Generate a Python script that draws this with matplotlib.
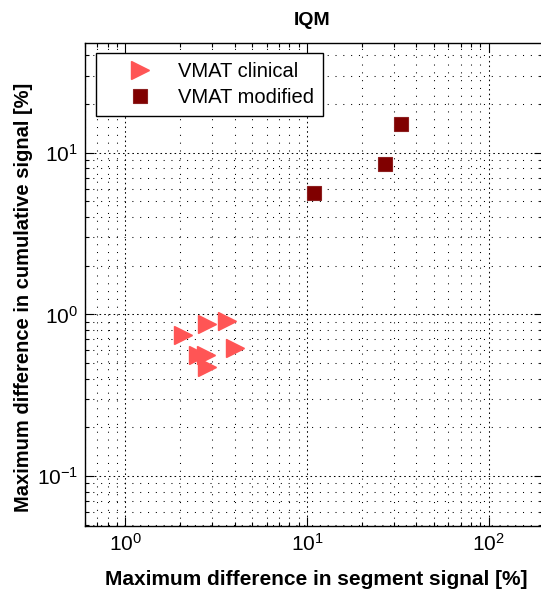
import matplotlib
matplotlib.use("Agg")
import matplotlib.pyplot as plt
from matplotlib.ticker import LogLocator, LogFormatterSciNotation, NullFormatter

plt.rcParams['font.family'] = ['Liberation Sans', 'DejaVu Sans']
plt.rcParams['mathtext.fontset'] = 'custom'
plt.rcParams['mathtext.rm'] = 'Liberation Sans'
plt.rcParams['mathtext.it'] = 'Liberation Sans:italic'
plt.rcParams['mathtext.bf'] = 'Liberation Sans:bold'
plt.rcParams['axes.unicode_minus'] = False

# Data
clinical_x = [2.09, 2.83, 3.64, 4.02, 2.51, 2.79, 2.82]
clinical_y = [0.745, 0.876, 0.905, 0.622, 0.560, 0.557, 0.472]
modified_x = [32.8, 27.0, 10.9]
modified_y = [15.1, 8.51, 5.60]
series_labels = ["VMAT clinical", "VMAT modified"]
title = "IQM"
xlabel = "Maximum difference in segment signal [%]"
ylabel = "Maximum difference in cumulative signal [%]"

W, H = 541, 590
fig = plt.figure(figsize=(W / 100, H / 100), dpi=100)
left, right, top, bottom = 85, 543.4, 42.7, 526
ax = fig.add_axes([left / W, (H - bottom) / H, (right - left) / W, (bottom - top) / H])

ax.set_xscale('log')
ax.set_yscale('log')
ax.set_xlim(0.6, 200)
ax.set_ylim(0.049, 48)

ax.plot(clinical_x, clinical_y, linestyle='none', marker='>', markersize=12.5,
        color='#ff5555', markeredgecolor='#ff5555', label=series_labels[0], zorder=3)
ax.plot(modified_x, modified_y, linestyle='none', marker='s', markersize=10.5,
        color='#800000', markeredgecolor='#8c2020', markeredgewidth=0.8,
        label=series_labels[1], zorder=3)

for axis in (ax.xaxis, ax.yaxis):
    axis.set_major_locator(LogLocator(base=10, numticks=10))
    axis.set_minor_locator(LogLocator(base=10, subs=range(2, 10), numticks=20))
    axis.set_major_formatter(LogFormatterSciNotation())
    axis.set_minor_formatter(NullFormatter())

ax.grid(True, which='major', color='#000000', linestyle=(0, (1.5, 3)), linewidth=0.75)
ax.grid(True, which='minor', color='#000000', linestyle=(0, (1, 6.5)), linewidth=0.75)
ax.set_axisbelow(True)

ax.tick_params(which='both', direction='in', top=True, right=True, width=0.8, color='black')
ax.tick_params(which='major', length=6.5, labelsize=15, pad=5)
ax.tick_params(which='minor', length=3.2)
for s in ax.spines.values():
    s.set_linewidth(1.0)
    s.set_color('black')

ax.set_title(title, x=0.495, y=1.0366, pad=0, fontsize=14, fontweight='bold', va='baseline')
ax.set_xlabel(xlabel, fontsize=15, fontweight='bold')
ax.xaxis.label.set_verticalalignment('baseline')
ax.xaxis.set_label_coords(0.504, -0.122)
ax.set_ylabel(ylabel, fontsize=14.5, fontweight='bold')
ax.yaxis.set_label_coords(-0.1134, 0.474)

leg = ax.legend(loc='upper left', bbox_to_anchor=(0.0242, 0.979), borderaxespad=0,
                fontsize=14.5, frameon=True, fancybox=False, edgecolor='black',
                framealpha=1, handlelength=3.5, handletextpad=0.1, borderpad=0.45,
                labelspacing=0.35, numpoints=1)
leg.get_frame().set_linewidth(1.0)

fig.savefig('out.png', dpi=100)
